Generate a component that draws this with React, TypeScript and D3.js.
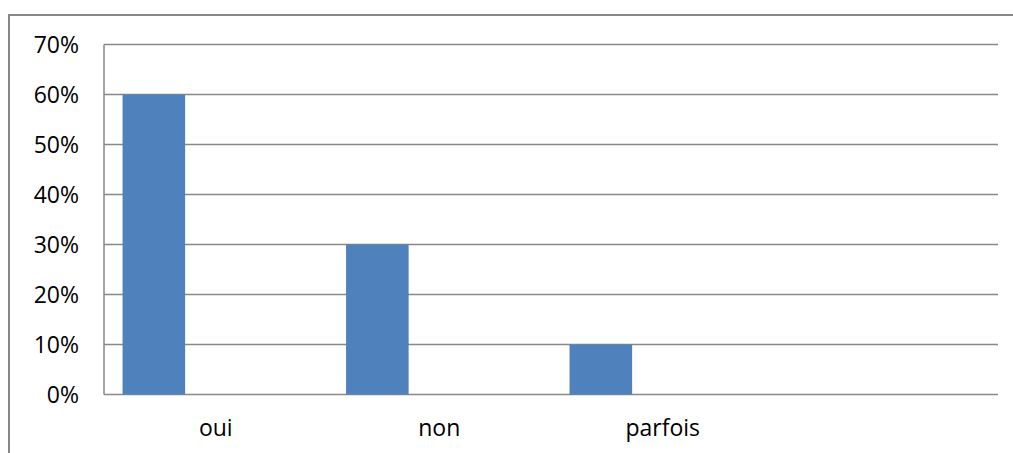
import React from "react";
import * as d3 from "d3";

// chart values
const categories = ["oui", "non", "parfois", ""];
const values = [0.6, 0.3, 0.1, null];
const yTicks = [0, 0.1, 0.2, 0.3, 0.4, 0.5, 0.6, 0.7];

const W = 1013;
const H = 453;
const margin = { top: 44.5, right: 15, bottom: 58.5, left: 104 };
const font = "'Open Sans', 'Liberation Sans', sans-serif";
const grid = "#898989";

const App: React.FC = () => {
  const innerW = W - margin.left - margin.right;
  const innerH = H - margin.top - margin.bottom;

  const x = d3.scaleBand<string>().domain(categories).range([0, innerW]);
  const y = d3.scaleLinear().domain([0, 0.7]).range([innerH, 0]);

  const bw = x.bandwidth();
  const barOffset = bw * 0.083;
  const barWidth = bw * 0.28;

  return (
    <svg
      width={W}
      height={H}
      style={{ position: "absolute", left: 0, top: 0, background: "#fff" }}
    >
      {/* outer frame, runs past the right and bottom edges */}
      <rect x={9} y={15} width={W + 20} height={H + 20} fill="none" stroke="#868686" strokeWidth={2} />

      <g transform={`translate(${margin.left},${margin.top})`}>
        {/* gridlines */}
        {yTicks.map((t) => (
          <line key={t} x1={0} x2={innerW} y1={y(t)} y2={y(t)} stroke={grid} strokeWidth={1.5} />
        ))}
        <line x1={0} x2={0} y1={0} y2={innerH} stroke={grid} strokeWidth={1.5} />

        {/* bars */}
        {categories.map((c, i) =>
          values[i] == null ? null : (
            <rect
              key={c}
              x={(x(c) ?? 0) + barOffset}
              y={y(values[i] as number)}
              width={barWidth}
              height={innerH - y(values[i] as number)}
              fill="#4F81BD"
            />
          )
        )}

        {/* y tick labels */}
        {yTicks.map((t) => (
          <text
            key={t}
            x={-25}
            y={y(t)}
            dy="0.36em"
            textAnchor="end"
            fontFamily={font}
            fontSize={23}
            fill="#000"
          >
            {d3.format(".0%")(t)}
          </text>
        ))}

        {/* category labels */}
        {categories.map((c) => (
          <text
            key={c || "empty"}
            x={(x(c) ?? 0) + bw / 2}
            y={innerH + 41.5}
            textAnchor="middle"
            fontFamily={font}
            fontSize={23}
            fill="#000"
          >
            {c}
          </text>
        ))}
      </g>
    </svg>
  );
};

export default App;
